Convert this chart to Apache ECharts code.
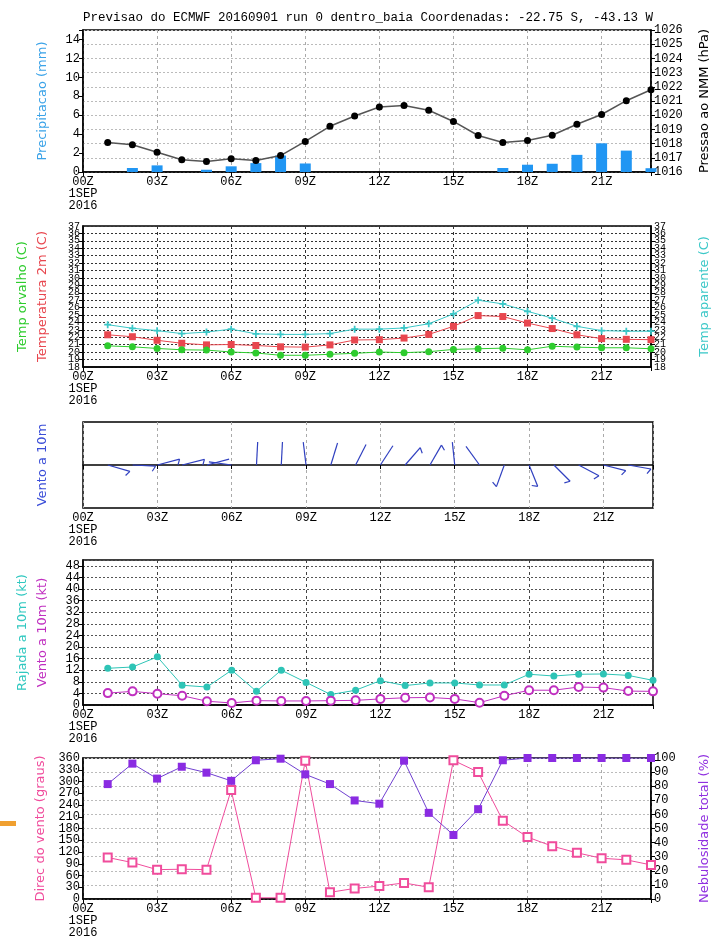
<!DOCTYPE html>
<html><head><meta charset="utf-8">
<script src="https://cdn.jsdelivr.net/npm/echarts@6/dist/echarts.min.js"></script>
<style>html,body{margin:0;padding:0;background:#fff}#c{width:719px;height:941px}</style>
</head><body><div id="c"></div>
<script>
// ---------- DATA ----------
const titleText = 'Previsao do ECMWF 20160901 run 0 dentro_baia Coordenadas: -22.75 S, -43.13 W';
const xTickLabels = ['00Z\n1SEP\n2016','03Z','06Z','09Z','12Z','15Z','18Z','21Z'];
const hours = [1,2,3,4,5,6,7,8,9,10,11,12,13,14,15,16,17,18,19,20,21,22,23];
const precip = [0,0.42,0.7,0,0.24,0.6,0.94,1.74,0.9,0,0,0,0,0,0,0,0.42,0.77,0.87,1.81,3.03,2.26,0.4];
const pressure = [1018.08,1017.92,1017.39,1016.86,1016.74,1016.93,1016.81,1017.16,1018.15,1019.22,1019.94,1020.58,1020.68,1020.35,1019.56,1018.57,1018.08,1018.22,1018.59,1019.36,1020.05,1021.02,1021.79];
const temp2m = [22.34,22.08,21.6,21.2,20.98,21.03,20.9,20.72,20.68,20.98,21.64,21.68,21.9,22.39,23.48,24.93,24.8,23.92,23.18,22.34,21.82,21.73,21.68];
const dewPoint = [20.85,20.72,20.5,20.32,20.28,20.02,19.89,19.58,19.58,19.71,19.84,20.02,19.93,20.06,20.37,20.46,20.54,20.32,20.8,20.68,20.59,20.59,20.46];
const apparentT = [23.7,23.22,22.9,22.5,22.7,23.1,22.47,22.39,22.39,22.5,23.1,23.1,23.26,23.83,25.15,27.0,26.5,25.5,24.58,23.48,22.9,22.82,22.82];
const gust10m = [12.66,13.1,16.6,6.8,6.2,12.0,4.7,12.0,7.8,3.6,5.1,8.4,6.7,7.6,7.6,6.9,6.9,10.6,10.0,10.6,10.7,10.2,8.5];
const wind10m = [4.1,4.7,3.9,3.2,1.3,0.7,1.5,1.4,1.4,1.5,1.6,2.1,2.5,2.6,2.1,0.8,3.2,5.1,5.1,6.2,6.0,4.8,4.7];
const windDir = [106,93,75,76,75,278,3,3,353,17,27,33,41,30,354,324,200,158,135,118,104,100,87];
const cloudCover = [81.5,96,85.4,93.8,89.6,83.8,98.4,99.5,88.4,81.5,69.9,67.6,98.1,61.1,45.4,63.7,98.4,100,100,100,100,100,100];

// ---------- CHART ----------
const FF = "'Liberation Mono','DejaVu Sans Mono',monospace";
const NF = "'DejaVu Sans',sans-serif";
const pair = a => hours.map((h,i)=>[h,a[i]]);
const grids = [
  {left:83,right:66,top:30,height:142},
  {left:83,right:66,top:226,height:141},
  {left:83,right:66,top:422,height:86},
  {left:83,right:66,top:560,height:145},
  {left:83,right:66,top:758,height:141}
].map(g=>Object.assign(g,{show:true,borderColor:'#000',borderWidth:1.5,backgroundColor:'transparent'}));

function xAx(gi, gc){
  return {type:'value',gridIndex:gi,min:0,max:23,interval:3,
    axisLine:{show:true,lineStyle:{color:'#000',width:1.5}},
    axisTick:{show:true,length:4,lineStyle:{color:'#000'}},
    axisLabel:{formatter:v=>{const k=v/3;return Number.isInteger(k)&&xTickLabels[k]?xTickLabels[k]:'';},
      color:'#000',fontFamily:FF,fontSize:12,lineHeight:12,margin:4,showMinLabel:true,showMaxLabel:true},
    splitLine:{show:true,lineStyle:{color:gc,type:[3,3],width:1}}};
}
const overlays=[];
function yAx(o){
  const ax = {type:'value',gridIndex:o.gi,position:o.pos,min:o.min,max:o.max,interval:o.iv,
    axisLine:{show:!o.hidden,lineStyle:{color:'#000',width:1.5}},
    axisTick:{show:!o.hidden,length:4,lineStyle:{color:'#000'}},
    axisLabel:{show:!o.hidden,color:'#000',fontFamily:FF,fontSize:o.fs||12,margin:3,
      showMinLabel:o.ends?false:true,showMaxLabel:o.ends?false:true,hideOverlap:false,
      formatter:v=>(o.lab?o.lab(v):true)?String(v):''},
    splitLine:{show:!!o.split,lineStyle:{color:o.split||'#000',type:[2,2],width:1}},
    name:o.name||'',nameLocation:'middle',nameGap:o.gap||34,nameRotate:90,
    nameTextStyle:{color:o.nc||'#000',fontFamily:NF,fontSize:13}};
  if(o.ends){
    overlays.push({type:'value',gridIndex:o.gi,position:o.pos,min:o.min,max:o.max,interval:o.iv,
      axisLine:{show:false},axisTick:{show:false},splitLine:{show:false},
      axisLabel:{show:true,color:'#000',fontFamily:FF,fontSize:o.fs||12,margin:3,showMinLabel:true,showMaxLabel:true,
        formatter:v=>((v===o.min||v===o.max)&&(o.lab?o.lab(v):true))?String(v):''}});
  }
  return ax;
}
const xAxes=[xAx(0,'#aaa'),xAx(1,'#333'),xAx(2,'#aaa'),xAx(3,'#444'),xAx(4,'#aaa')];
const yAxes=[
  yAx({gi:0,pos:'left',min:0,max:15,iv:2,lab:v=>v%2===0,name:'Precipitacao (mm)',nc:'#3ba3e8',gap:34}),
  yAx({gi:0,pos:'right',min:1016,max:1026,iv:1,split:'#bbb',name:'Pressao ao NMM (hPa)',nc:'#000',gap:47}),
  yAx({gi:1,pos:'left',min:18,max:37,iv:1,fs:10,ends:true,split:'#333',name:'Temperatura 2m (C)',nc:'#e8474f',gap:34}),
  yAx({gi:1,pos:'left',min:18,max:37,iv:1,hidden:true,name:'Temp orvalho (C)',nc:'#2ecc2e',gap:54}),
  yAx({gi:1,pos:'right',min:18,max:37,iv:1,fs:10,ends:true,name:'Temp aparente (C)',nc:'#3cc8c8',gap:47}),
  yAx({gi:2,pos:'left',min:-1,max:1,iv:1,hidden:true,name:'Vento a 10m',nc:'#3b4ed8',gap:34}),
  yAx({gi:3,pos:'left',min:0,max:50,iv:4,ends:true,lab:v=>v%4===0,split:'#555',name:'Vento a 10m (kt)',nc:'#c030c0',gap:34}),
  yAx({gi:3,pos:'left',min:0,max:50,iv:4,hidden:true,name:'Rajada a 10m (kt)',nc:'#30c8c0',gap:54}),
  yAx({gi:4,pos:'left',min:0,max:360,iv:30,ends:true,name:'Direc do vento (graus)',nc:'#f04c9c',gap:34}),
  yAx({gi:4,pos:'right',min:0,max:100,iv:10,split:'#bbb',name:'Nebulosidade total (%)',nc:'#9030e0',gap:47})
].concat(overlays);

const plusSym='path://M3,0H5V3H8V5H5V8H3V5H0V3H3Z';
function lineS(x,y,data,color,sym,size,extra){
  return Object.assign({type:'line',xAxisIndex:x,yAxisIndex:y,data:data,symbol:sym,symbolSize:size,
    lineStyle:{color:color,width:1},itemStyle:{color:color},animation:false},extra||{});
}
function renderBarb(params, api){
  const h=api.value(0), dir=api.value(1), spd=api.value(2);
  const p=api.coord([h,0]);
  const L=23, r=dir*Math.PI/180;
  const tx=p[0]+L*Math.sin(r), ty=p[1]-L*Math.cos(r);
  const st={stroke:'#3040c0',lineWidth:1.2};
  const ch=[{type:'line',shape:{x1:p[0],y1:p[1],x2:tx,y2:ty},style:st}];
  if(spd>=2.5){
    const br=(dir+180-60)*Math.PI/180, bl=6;
    ch.push({type:'line',shape:{x1:tx,y1:ty,x2:tx+bl*Math.sin(br),y2:ty-bl*Math.cos(br)},style:st});
  }
  const cs=params.coordSys;
  return {type:'group',children:ch,clipPath:{type:'rect',shape:{x:cs.x,y:cs.y,width:cs.width,height:cs.height}}};
}

const series=[
  {type:'bar',xAxisIndex:0,yAxisIndex:0,data:pair(precip),barWidth:11,itemStyle:{color:'#2196f3'},animation:false},
  lineS(0,1,pair(pressure),'#333','circle',7,{itemStyle:{color:'#000'},lineStyle:{color:'#555',width:1.5}}),
  lineS(1,4,pair(apparentT),'#3cc8c8',plusSym,7),
  lineS(1,2,pair(temp2m),'#e8474f','rect',7),
  lineS(1,3,pair(dewPoint),'#2ecc2e','circle',7),
  {type:'custom',xAxisIndex:2,yAxisIndex:5,renderItem:renderBarb,data:hours.map((h,i)=>[h,windDir[i],wind10m[i]]),animation:false},
  lineS(3,7,pair(gust10m),'#2ec4b6','circle',7),
  lineS(3,6,pair(wind10m),'#c030c0','emptyCircle',8,{itemStyle:{color:'#c030c0',borderWidth:1.5}}),
  lineS(4,8,pair(windDir),'#f04c9c','emptyRect',8,{itemStyle:{color:'#f04c9c',borderWidth:1.2}}),
  lineS(4,9,pair(cloudCover),'#7040d0','rect',8,{itemStyle:{color:'#8a2be2'}})
];

const chart=echarts.init(document.getElementById('c'),null,{renderer:'canvas'});
chart.setOption({
  animation:false,
  title:{text:titleText,left:78,top:6,textStyle:{fontFamily:FF,fontSize:12.5,fontWeight:'normal',color:'#000'}},
  grid:grids,xAxis:xAxes,yAxis:yAxes,series:series,
  graphic:[{type:'rect',left:0,top:821,shape:{width:16,height:5},style:{fill:'#f0a030'}}]
});
</script></body></html>
